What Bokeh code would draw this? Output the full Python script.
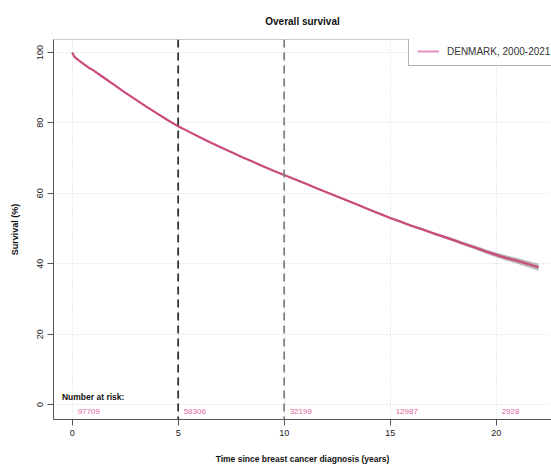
from bokeh.plotting import figure
from bokeh.models import Range1d, FixedTicker, Span, Legend, LegendItem, ColumnDataSource
from bokeh.core.properties import value
from bokeh.embed import file_html
from bokeh.resources import INLINE

chart_title = "Overall survival"
series_name = "DENMARK, 2000-2021"
x_label = "Time since breast cancer diagnosis (years)"
y_label = "Survival (%)"

time_years = [0, 0.1, 0.25, 0.5, 0.75, 1, 1.5, 2, 2.5, 3, 3.5, 4, 4.5, 5, 5.5, 6, 6.5,
              7, 7.5, 8, 8.5, 9, 9.5, 10, 10.5, 11, 11.5, 12, 12.5, 13, 13.5, 14, 14.5,
              15, 15.5, 16, 16.5, 17, 17.5, 18, 18.5, 19, 19.5, 20, 20.5, 21, 21.5, 22]
survival_pct = [100, 98.8, 98.0, 96.9, 95.8, 94.9, 92.8, 90.7, 88.6, 86.6, 84.6, 82.7, 80.8,
                79.0, 77.5, 76.0, 74.5, 73.1, 71.7, 70.3, 69.0, 67.7, 66.4, 65.2, 64.0, 62.8,
                61.5, 60.3, 59.1, 57.9, 56.7, 55.4, 54.2, 53.0, 51.9, 50.8, 49.8, 48.7, 47.7,
                46.7, 45.6, 44.6, 43.5, 42.5, 41.6, 40.8, 39.9, 39.0]
ci_halfwidth = [0, 0.05, 0.08, 0.1, 0.1, 0.12, 0.13, 0.14, 0.15, 0.15, 0.16, 0.16, 0.17, 0.17,
                0.18, 0.18, 0.19, 0.19, 0.2, 0.2, 0.21, 0.21, 0.22, 0.22, 0.23, 0.24, 0.25,
                0.26, 0.27, 0.28, 0.29, 0.3, 0.31, 0.32, 0.34, 0.36, 0.38, 0.4, 0.43, 0.46,
                0.5, 0.55, 0.6, 0.66, 0.73, 0.8, 0.9, 1.0]

x_ticks = [0, 5, 10, 15, 20]
y_ticks = [0, 20, 40, 60, 80, 100]
marker_years = [5, 10]
marker_colors = ["#333333", "#808080"]
risk_label = "Number at risk:"
risk_times = [0, 5, 10, 15, 20]
risk_counts = ["97709", "58306", "32199", "12987", "2928"]

FONT = "Liberation Sans"
LINE_COLOR = "#cc4a7e"
X_START, X_END = -0.88, 22.61
Y_START, Y_END = -4.23, 103.66

src = ColumnDataSource(dict(
    t=time_years,
    s=survival_pct,
    lo=[s - h for s, h in zip(survival_pct, ci_halfwidth)],
    hi=[s + h for s, h in zip(survival_pct, ci_halfwidth)],
))

p = figure(width=551, height=466, output_backend="svg", toolbar_location=None,
           x_range=Range1d(X_START, X_END), y_range=Range1d(Y_START, Y_END),
           min_border_left=53, min_border_right=0, min_border_top=39, min_border_bottom=44,
           title=chart_title)
p.background_fill_color = "white"
p.border_fill_color = "white"
p.outline_line_color = None

p.title.text_font = FONT
p.title.text_font_size = "10px"
p.title.text_font_style = "bold"
p.title.text_color = "#111111"
p.title.align = "center"
p.title.offset = 3
p.title.standoff = 25

# grid
for g in (p.xgrid, p.ygrid):
    g.grid_line_color = "#d8d8d8"
    g.grid_line_dash = "1 2"
    g.grid_line_width = 1
p.xgrid.ticker = FixedTicker(ticks=x_ticks)
p.ygrid.ticker = FixedTicker(ticks=y_ticks)

# axes
p.xaxis.ticker = FixedTicker(ticks=x_ticks)
p.yaxis.ticker = FixedTicker(ticks=y_ticks)
for ax in (p.xaxis[0], p.yaxis[0]):
    ax.axis_line_color = "#555555"
    ax.major_tick_line_color = "#555555"
    ax.minor_tick_line_color = None
    ax.major_tick_in = 0
    ax.major_tick_out = 6
    ax.major_label_text_font = FONT
    ax.major_label_text_font_size = "9px"
    ax.major_label_text_color = "#222222"
    ax.axis_label_text_font = FONT
    ax.axis_label_text_font_style = "bold"
    ax.axis_label_text_color = "#111111"
p.xaxis.axis_label = x_label
p.yaxis.axis_label = y_label
p.xaxis.axis_label_text_font_size = "8.5px"
p.yaxis.axis_label_text_font_size = "9px"
p.xaxis.major_label_standoff = 4
p.xaxis.axis_label_standoff = 15
p.yaxis.major_label_standoff = 4
p.yaxis.axis_label_standoff = 15
p.yaxis.major_label_orientation = "vertical"

# top frame line
p.add_layout(Span(location=Y_END, dimension="width", line_color="#999999", line_width=1))

# marker lines at 5 and 10 years
for yr, col in zip(marker_years, marker_colors):
    p.add_layout(Span(location=yr, dimension="height", line_color=col,
                      line_width=1.8, line_dash="8 5"))

# confidence band + survival curve
p.varea(x="t", y1="lo", y2="hi", source=src, fill_color="#9a9a9a", fill_alpha=0.7)
r_line = p.line(x="t", y="s", source=src, line_color=LINE_COLOR, line_width=2.2)
# legend swatch (lighter, as in the original key); a single NaN point draws nothing
r_key = p.line(x=[float("nan")], y=[float("nan")], line_color="#e391bb", line_width=2)

# number at risk
p.text(x=[-0.48], y=[2.25], text=[risk_label], text_font=value(FONT),
       text_font_size="8.5px", text_font_style="bold", text_color="#111111",
       text_align="left", text_baseline="middle")
p.text(x=risk_times, y=[-1.97] * len(risk_times), text=risk_counts, x_offset=5.5,
       text_font=value(FONT), text_font_size="8px", text_color="#e2679f",
       text_align="left", text_baseline="middle")

legend = Legend(items=[LegendItem(label=series_name, renderers=[r_key])],
                location=(355, 353), padding=8, margin=0, spacing=0,
                glyph_width=22, glyph_height=12, label_height=12, label_standoff=8,
                label_text_font=FONT, label_text_font_size="10px",
                label_text_color="#333333", border_line_color="#666666",
                border_line_width=1, background_fill_color="white", background_fill_alpha=1)
p.add_layout(legend)

open("out.html", "w").write(file_html(p, INLINE))
